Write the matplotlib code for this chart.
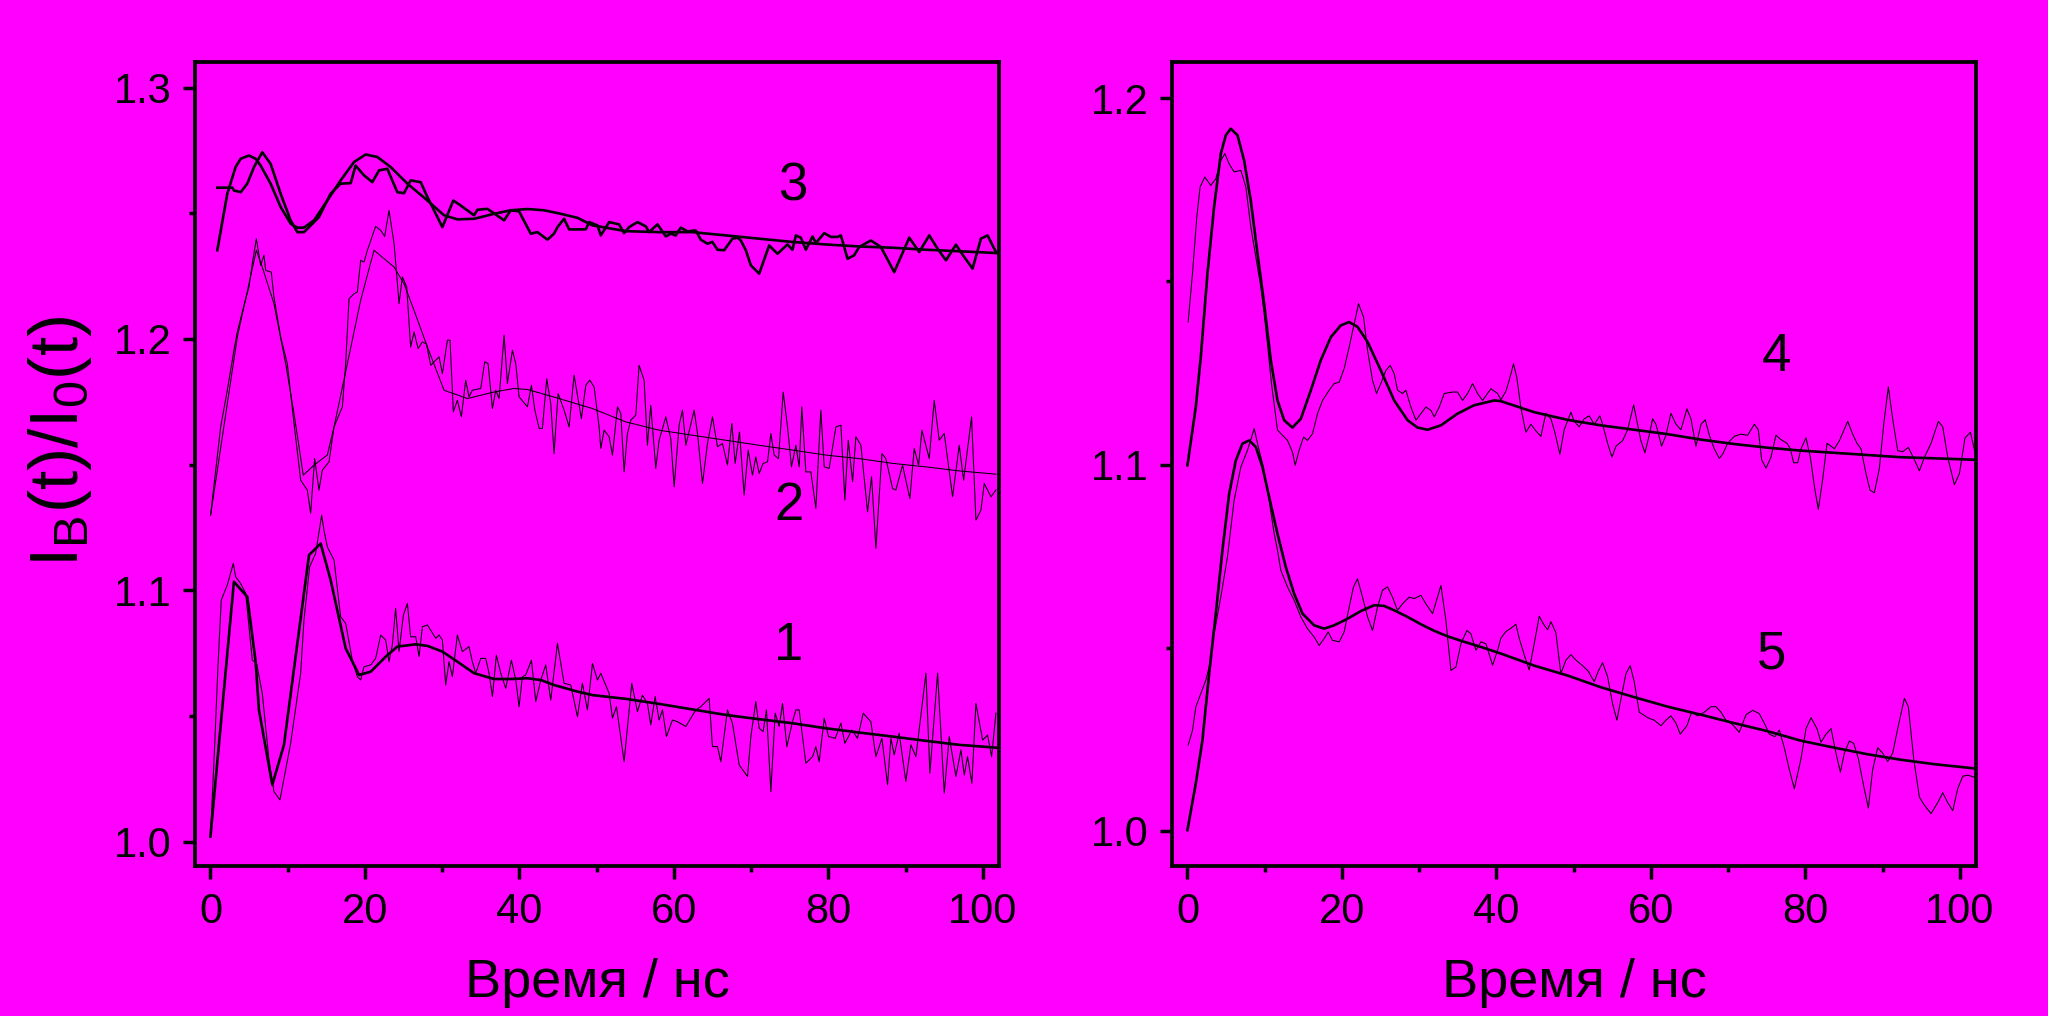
import matplotlib
matplotlib.use('Agg')
import matplotlib.pyplot as plt
from matplotlib.ticker import MultipleLocator

plt.rcParams['font.family'] = ['Liberation Sans', 'DejaVu Sans']
plt.rcParams['mathtext.fontset'] = 'custom'
plt.rcParams['mathtext.rm'] = 'Liberation Sans'
plt.rcParams['mathtext.it'] = 'Liberation Sans'
plt.rcParams['mathtext.bf'] = 'Liberation Sans:bold'

# ---------------- data: left panel ----------------
# curve 3 (noisy, thick)
t3 = [0.89, 2.83, 3.04, 3.91, 4.77, 5.64, 6.71, 7.79, 9.09, 10.38, 11.25, 12.11, 13.41, 14.05, 15.56,
      16.86, 18.16, 18.80, 19.88, 20.96, 21.83, 22.90, 24.20, 25.06, 25.92, 27.22, 28.09, 28.95, 30.03,
      31.45, 32.40, 34.13, 34.56, 35.86, 38.02, 38.88, 39.96, 41.47, 42.34, 43.63, 44.49, 44.93, 45.79,
      46.44, 48.60, 49.03, 50.11,
      50.54, 51.62, 52.91, 53.56, 54.21, 55.29, 56.37, 56.80, 57.88, 58.96, 59.60, 60.25, 60.90, 61.76,
      62.84, 63.49, 64.35, 65.00, 65.65, 66.51, 67.59, 68.24, 68.67, 69.32, 69.97, 71.05, 72.34, 73.42,
      74.72, 75.36, 75.80, 76.44, 77.09, 77.96, 78.39, 79.47, 80.33, 81.19, 81.63, 82.49, 83.35, 84.00,
      85.51, 86.81, 88.53, 90.48, 91.77, 93.07, 94.15, 95.23, 96.52, 97.60, 98.68, 99.76, 100.62, 101.70]
v3 = [1.2602, 1.2602, 1.2591, 1.2584, 1.2618, 1.2684, 1.2743, 1.2697, 1.2578, 1.2472, 1.2425, 1.2425,
      1.2465, 1.2485, 1.2578, 1.2618, 1.2620, 1.2690, 1.2651, 1.2624, 1.2671, 1.2677, 1.2584, 1.2580,
      1.2631, 1.2624, 1.2565, 1.2512, 1.2445, 1.2551, 1.2531, 1.2492, 1.2514, 1.2518, 1.2472, 1.2512,
      1.2508, 1.2419, 1.2425, 1.2395, 1.2419, 1.2445, 1.2478, 1.2436, 1.2436, 1.2465, 1.2452,
      1.2412, 1.2465, 1.2456, 1.2421, 1.2445, 1.2465, 1.2448, 1.2425, 1.2456, 1.2408, 1.2419, 1.2412,
      1.2443, 1.2428, 1.2432, 1.2395, 1.2379, 1.2386, 1.2355, 1.2353, 1.2399, 1.2403, 1.2392, 1.2353,
      1.2293, 1.2260, 1.2372, 1.2339, 1.2376, 1.2355, 1.2412, 1.2403, 1.2355, 1.2408, 1.2382, 1.2421,
      1.2406, 1.2406, 1.2412, 1.2319, 1.2333, 1.2366, 1.2392, 1.2366, 1.2266, 1.2403, 1.2346, 1.2412,
      1.2359, 1.2313, 1.2375, 1.2326, 1.2280, 1.2399, 1.2412, 1.2346]
# fit 3 (thick)
tf3 = [0.89, 2.18, 3.26, 3.91, 4.99, 5.85, 6.50, 7.79, 9.09, 10.38, 11.25, 12.11, 13.41, 15.13, 16.86,
       18.59, 20.10, 21.61, 23.34, 25.50, 28.09, 30.25, 31.97, 34.13, 36.72, 38.88, 41.04, 43.20, 45.36,
       47.52, 49.46, 53.78, 58.09, 62.41, 66.73, 71.05, 75.36, 79.68, 84.00, 88.32, 92.64, 96.95, 101.70]
vf3 = [1.2353, 1.2578, 1.2684, 1.2717, 1.2730, 1.2717, 1.2690, 1.2618, 1.2525, 1.2459, 1.2443, 1.2443,
       1.2472, 1.2551, 1.2631, 1.2704, 1.2734, 1.2724, 1.2684, 1.2618, 1.2551, 1.2492, 1.2476, 1.2478,
       1.2498, 1.2512, 1.2517, 1.2512, 1.2498, 1.2482, 1.2452, 1.2429, 1.2425, 1.2425, 1.2412, 1.2399,
       1.2386, 1.2376, 1.2368, 1.2363, 1.2355, 1.2349, 1.2342]

# curve 2 (noisy, thin)
t2_early = [0.02, 1.32, 2.18, 3.04, 3.48, 4.34, 4.99, 5.42, 5.94, 6.50, 6.93, 7.15, 7.88, 8.22, 9.09,
            9.95, 10.38, 10.82, 11.68, 12.54, 12.97, 13.49, 14.05, 14.49, 15.35, 16.00, 17.08, 17.51,
            17.94, 18.59, 19.02, 19.45, 19.88, 20.32, 21.39, 22.04, 22.56, 23.12, 23.78, 24.42, 24.85,
            25.41, 25.92, 26.36, 26.88, 27.44, 27.96, 28.52, 29.60, 30.03, 30.68, 31.02, 31.45, 31.97,
            32.49, 33.05, 33.48, 33.91, 35.00, 35.51, 35.95, 36.51, 36.94, 37.37, 38.02, 38.45, 39.10,
            39.53, 39.96, 41.04, 41.56, 42.00, 42.56, 42.98, 43.54, 44.06, 44.49, 45.01, 45.79, 46.44,
            47.08, 48.03, 48.60, 49.12, 49.68, 50.32]
v2_early = [1.1299, 1.1650, 1.1796, 1.1955, 1.2028, 1.2134, 1.2207, 1.2300, 1.2399, 1.2293, 1.2333,
            1.2273, 1.2266, 1.2167, 1.2008, 1.1902, 1.1783, 1.1664, 1.1438, 1.1399, 1.1306, 1.1524,
            1.1399, 1.1478, 1.1511, 1.1650, 1.1730, 1.1902, 1.2160, 1.2180, 1.2187, 1.2313, 1.2306,
            1.2353, 1.2448, 1.2432, 1.2408, 1.2512, 1.2379, 1.2141, 1.2247, 1.2207, 1.1968, 1.2028,
            1.1962, 1.1988, 1.1981, 1.1895, 1.1929, 1.1862, 1.1995, 1.1995, 1.1710, 1.1756, 1.1690,
            1.1836, 1.1770, 1.1796, 1.1803, 1.1909, 1.1902, 1.1723, 1.1796, 1.1763, 1.2015, 1.1823,
            1.1955, 1.1902, 1.1770, 1.1730, 1.1816, 1.1717, 1.1644, 1.1644, 1.1842, 1.1743, 1.1544,
            1.1783, 1.1717, 1.1650, 1.1856, 1.1683, 1.1816, 1.1836, 1.1809, 1.1650]
t2_late = [50.54, 50.97, 51.62, 52.05, 52.70, 53.13, 53.56, 53.99, 54.42, 55.07, 55.50, 56.15, 56.58,
           57.01, 57.66, 58.09, 58.96, 59.60, 60.04, 60.68, 61.12, 61.55, 62.63, 63.06, 63.71, 64.35,
           65.00, 65.65, 66.30, 66.94, 67.51, 67.94, 68.50, 69.10, 69.62, 70.18, 70.61, 71.05, 71.56,
           72.13, 72.56, 72.99, 73.55, 74.16, 74.72, 75.23, 75.80, 76.23, 76.57, 77.09, 77.74, 78.39,
           79.03, 79.47, 80.11, 80.98, 81.63, 82.14, 82.58, 83.14, 83.57, 84.22, 85.08, 85.60, 86.16,
           86.94, 87.45, 88.32, 88.75, 89.61, 90.56, 91.12, 91.69, 92.12, 93.07, 93.71, 94.36, 95.01,
           96.09, 96.95, 97.52, 98.55, 99.11, 99.76, 100.19, 101.06, 101.70]
v2_late = [1.1564, 1.1637, 1.1611, 1.1538, 1.1730, 1.1704, 1.1471, 1.1624, 1.1677, 1.1697, 1.1895,
           1.1836, 1.1577, 1.1736, 1.1485, 1.1597, 1.1690, 1.1604, 1.1412, 1.1657, 1.1717, 1.1577,
           1.1717, 1.1624, 1.1425, 1.1584, 1.1690, 1.1571, 1.1584, 1.1498, 1.1664, 1.1505, 1.1630,
           1.1379, 1.1558, 1.1458, 1.1531, 1.1465, 1.1505, 1.1511, 1.1624, 1.1538, 1.1524, 1.1789,
           1.1650, 1.1491, 1.1577, 1.1491, 1.1730, 1.1471, 1.1471, 1.1326, 1.1717, 1.1491, 1.1485,
           1.1650, 1.1657, 1.1359, 1.1597, 1.1432, 1.1611, 1.1577, 1.1312, 1.1452, 1.1167, 1.1544,
           1.1524, 1.1405, 1.1399, 1.1498, 1.1365, 1.1564, 1.1498, 1.1637, 1.1524, 1.1756, 1.1597,
           1.1624, 1.1372, 1.1577, 1.1438, 1.1690, 1.1279, 1.1319, 1.1425, 1.1372, 1.1399]
# fit 2 (thin)
tf2 = [0.02, 3.48, 5.94, 6.71, 8.22, 9.74, 10.82, 12.02, 13.41, 15.13, 16.00, 17.73, 19.45, 21.18,
       23.78, 25.06, 26.36, 28.09, 30.25, 33.27, 36.72, 39.31, 41.04, 45.14, 49.46, 53.78, 58.09, 62.41,
       66.73, 71.05, 75.36, 79.68, 84.00, 88.32, 92.64, 96.95, 101.70]
vf2 = [1.1299, 1.2008, 1.2353, 1.2286, 1.2141, 1.1902, 1.1703, 1.1458, 1.1498, 1.1538, 1.1650, 1.1902,
       1.2154, 1.2353, 1.2286, 1.2220, 1.2114, 1.1968, 1.1796, 1.1763, 1.1789, 1.1803, 1.1799, 1.1763,
       1.1723, 1.1670, 1.1637, 1.1617, 1.1597, 1.1577, 1.1558, 1.1538, 1.1524, 1.1505, 1.1491, 1.1475,
       1.1462]

# curve 1 (noisy, thin)
t1_early = [0.02, 0.54, 0.97, 1.40, 2.18, 2.96, 3.26, 3.91, 4.56, 5.42, 5.98, 6.71, 7.58, 8.22, 9.00,
            10.38, 11.68, 12.11, 12.85, 13.62, 14.40, 14.70, 15.13, 16.00, 16.86, 17.51, 18.37, 19.02,
            19.45, 19.88, 20.75, 21.39, 22.04, 22.69, 23.12, 23.55, 23.98, 24.42, 24.98, 25.50, 25.92,
            26.58, 27.01, 27.44, 28.09, 29.17, 29.60, 30.03, 30.46, 30.89, 31.32, 31.97, 32.62, 33.48,
            33.91, 34.35, 35.00, 35.64, 36.07, 36.51, 37.02, 37.59, 38.23, 38.97, 39.53, 39.96, 40.39,
            40.82, 41.56, 42.12, 42.77, 43.41, 44.06, 44.93, 45.79, 46.65, 47.52, 48.16, 48.81, 49.46,
            50.11]
v1_early = [1.0033, 1.0378, 1.0696, 1.0961, 1.1021, 1.1107, 1.1054, 1.1027, 1.0988, 1.0722, 1.0709,
            1.0590, 1.0325, 1.0199, 1.0166, 1.0391, 1.0670, 1.0882, 1.1094, 1.1147, 1.1299, 1.1239,
            1.1173, 1.1120, 1.0895, 1.0868, 1.0722, 1.0656, 1.0643, 1.0696, 1.0703, 1.0729, 1.0822,
            1.0802, 1.0716, 1.0782, 1.0928, 1.0756, 1.0901, 1.0948, 1.0815, 1.0815, 1.0736, 1.0855,
            1.0862, 1.0809, 1.0822, 1.0802, 1.0623, 1.0716, 1.0656, 1.0822, 1.0756, 1.0776, 1.0716,
            1.0670, 1.0729, 1.0729, 1.0670, 1.0577, 1.0742, 1.0670, 1.0610, 1.0722, 1.0643, 1.0537,
            1.0656, 1.0663, 1.0722, 1.0557, 1.0643, 1.0703, 1.0563, 1.0789, 1.0630, 1.0623, 1.0497,
            1.0630, 1.0524, 1.0709, 1.0643]
t1_late = [50.54, 51.62, 52.05, 52.57, 53.56, 54.55, 55.29, 55.93, 56.58, 57.01, 57.58, 58.09, 58.53,
           59.04, 59.82, 60.47, 61.55, 62.84, 63.49, 64.57, 65.00, 65.65, 66.08, 66.94, 67.59, 68.46,
           69.54, 69.97, 70.61, 71.05, 71.56, 71.99, 72.56, 73.12, 73.64, 74.07, 74.63, 75.36, 75.80,
           76.23, 77.09, 77.96, 78.39, 78.82, 79.47, 80.03, 80.89, 81.63, 82.14, 83.05, 83.78, 84.52,
           85.51, 86.16, 86.94, 87.67, 88.10, 88.53, 89.18, 90.04, 90.69, 91.34, 92.64, 93.15, 94.15,
           95.01, 95.66, 96.52, 97.17, 97.60, 98.03, 98.59, 99.11, 99.98, 100.62, 101.14, 101.70]
v1_late = [1.0670, 1.0590, 1.0491, 1.0537, 1.0318, 1.0630, 1.0517, 1.0583, 1.0550, 1.0464, 1.0577,
           1.0484, 1.0524, 1.0418, 1.0484, 1.0477, 1.0458, 1.0524, 1.0537, 1.0570, 1.0378, 1.0378,
           1.0318, 1.0524, 1.0471, 1.0305, 1.0259, 1.0418, 1.0557, 1.0451, 1.0438, 1.0524, 1.0199,
           1.0511, 1.0458, 1.0550, 1.0378, 1.0477, 1.0524, 1.0524, 1.0312, 1.0338, 1.0378, 1.0318,
           1.0491, 1.0418, 1.0411, 1.0471, 1.0391, 1.0444, 1.0411, 1.0511, 1.0477, 1.0338, 1.0411,
           1.0226, 1.0411, 1.0345, 1.0431, 1.0239, 1.0385, 1.0338, 1.0670, 1.0272, 1.0670, 1.0193,
           1.0418, 1.0259, 1.0365, 1.0265, 1.0338, 1.0232, 1.0550, 1.0404, 1.0424, 1.0338, 1.0511]
# fit 1 (thick)
tf1 = [0.0, 3.04, 4.77, 5.85, 6.28, 8.01, 9.52, 12.76, 14.27, 15.56, 17.51, 19.24, 20.75, 22.69, 24.20,
       26.58, 28.09, 30.03, 31.97, 34.13, 36.72, 38.88, 41.04, 42.77, 44.49, 47.52, 49.46, 53.78, 58.09,
       62.41, 66.73, 71.05, 75.36, 79.68, 84.00, 88.32, 92.64, 96.95, 101.70]
vf1 = [1.0020, 1.1034, 1.0974, 1.0716, 1.0524, 1.0226, 1.0385, 1.1140, 1.1186, 1.1041, 1.0769, 1.0663,
       1.0676, 1.0736, 1.0776, 1.0785, 1.0779, 1.0756, 1.0716, 1.0670, 1.0647, 1.0647, 1.0650, 1.0643,
       1.0623, 1.0597, 1.0583, 1.0568, 1.0548, 1.0526, 1.0504, 1.0487, 1.0471, 1.0451, 1.0434, 1.0418,
       1.0401, 1.0385, 1.0374]

# ---------------- data: right panel ----------------
# curve 4 (noisy, thin)
t4_early = [0.09, 0.65, 1.21, 1.64, 2.25, 3.02, 3.67, 4.32, 4.84, 5.40, 6.04, 6.91, 7.56, 8.20, 8.85,
            9.50, 9.93, 10.36, 10.88, 11.66, 12.31, 12.95, 13.60, 13.95, 14.46, 15.03, 15.54, 16.19,
            16.84, 17.49, 18.35, 19.00, 19.65, 20.29, 20.94, 21.59, 22.15, 22.80, 23.32, 23.96, 24.48,
            25.04, 25.69, 26.25, 26.77, 27.20, 27.85, 28.28, 28.93, 29.58, 30.22, 30.87, 31.52, 31.95,
            32.60, 33.25, 34.33, 34.97, 35.62, 36.27, 36.92, 37.56, 38.21, 39.29, 40.16]
v4_early = [1.1389, 1.1521, 1.1676, 1.1758, 1.1785, 1.1762, 1.1780, 1.1830, 1.1849, 1.1821, 1.1799,
            1.1803, 1.1758, 1.1649, 1.1567, 1.1485, 1.1412, 1.1330, 1.1221, 1.1094, 1.1080, 1.1066,
            1.1034, 1.0998, 1.1039, 1.1075, 1.1066, 1.1084, 1.1139, 1.1175, 1.1203, 1.1221, 1.1225,
            1.1262, 1.1321, 1.1385, 1.1439, 1.1403, 1.1312, 1.1230, 1.1194, 1.1221, 1.1257, 1.1271,
            1.1248, 1.1203, 1.1194, 1.1203, 1.1157, 1.1121, 1.1139, 1.1157, 1.1148, 1.1130, 1.1157,
            1.1194, 1.1198, 1.1198, 1.1175, 1.1194, 1.1221, 1.1194, 1.1175, 1.1207, 1.1194]
t4_late = [40.58, 41.23, 41.66, 42.22, 42.65, 43.17, 43.82, 44.47, 45.11, 45.76, 46.41, 47.06, 47.57,
           48.22, 48.78, 49.65, 50.08, 50.73, 51.37, 52.02, 52.67, 53.40, 53.75, 54.40, 54.96, 55.48,
           56.34, 56.99, 57.77, 58.28, 58.71, 59.23, 59.79, 60.23, 60.66, 61.39, 61.95, 62.60, 63.25,
           63.90, 64.67, 65.19, 65.84, 66.49, 67.05, 67.57, 68.21, 68.86, 69.29, 69.94, 70.80, 71.67,
           72.53, 73.40, 73.91, 74.35, 74.91, 75.55, 76.20, 76.85, 77.63, 78.06, 78.49, 79.01, 79.44,
           80.09, 80.65, 81.25, 81.69, 82.25, 82.81, 83.33, 83.76, 84.41, 85.49, 86.13, 86.69, 87.21,
           87.86, 88.38, 88.94, 89.59, 90.15, 90.75, 91.31, 91.96, 92.61, 93.34, 94.12, 94.77, 95.42,
           96.28, 97.23, 97.79, 98.44, 99.30, 99.95, 100.68, 101.38, 102.11]
v4_late = [1.1177, 1.1200, 1.1230, 1.1275, 1.1237, 1.1155, 1.1088, 1.1110, 1.1092, 1.1077, 1.1140,
           1.1125, 1.1088, 1.1028, 1.1095, 1.1143, 1.1118, 1.1103, 1.1125, 1.1133, 1.1110, 1.1133,
           1.1110, 1.1058, 1.1020, 1.1050, 1.1065, 1.1095, 1.1163, 1.1110, 1.1065, 1.1032, 1.1080,
           1.1125, 1.1110, 1.1050, 1.1080, 1.1140, 1.1110, 1.1095, 1.1152, 1.1125, 1.1050, 1.1110,
           1.1122, 1.1080, 1.1043, 1.1017, 1.1028, 1.1058, 1.1077, 1.1083, 1.1080, 1.1110, 1.1095,
           1.1013, 1.0990, 1.1020, 1.1080, 1.1068, 1.1058, 1.1043, 1.1005, 1.1005, 1.1043, 1.1073,
           1.1020, 1.0930, 1.0878, 1.0960, 1.1058, 1.1050, 1.1043, 1.1065, 1.1118, 1.1083, 1.1058,
           1.1043, 1.0975, 1.0930, 1.0923, 1.0990, 1.1110, 1.1212, 1.1125, 1.1038, 1.1035, 1.1047,
           1.1013, 1.0983, 1.1020, 1.1058, 1.1118, 1.1103, 1.1020, 1.0945, 1.0975, 1.1073, 1.1088,
           1.1020]
# fit 4 (thick)
tf4 = [0.0, 1.08, 1.73, 2.59, 3.45, 4.32, 4.97, 5.61, 6.48, 7.34, 8.20, 9.07, 9.93, 10.79, 11.66, 12.52,
       13.60, 14.68, 15.98, 17.27, 18.57, 19.86, 20.94, 22.02, 23.32, 25.04, 26.77, 28.50, 29.79, 31.09,
       32.82, 34.97, 37.13, 39.72, 40.58, 44.90, 49.22, 53.53, 57.85, 62.17, 66.49, 70.80, 75.12, 79.44,
       83.76, 88.08, 92.39, 96.71, 102.11]
vf4 = [1.0998, 1.1157, 1.1294, 1.1521, 1.1703, 1.1849, 1.1899, 1.1917, 1.1899, 1.1830, 1.1721, 1.1576,
       1.1439, 1.1285, 1.1175, 1.1121, 1.1101, 1.1125, 1.1203, 1.1285, 1.1348, 1.1380, 1.1389, 1.1376,
       1.1335, 1.1257, 1.1175, 1.1121, 1.1101, 1.1095, 1.1107, 1.1139, 1.1162, 1.1175, 1.1173, 1.1143,
       1.1122, 1.1107, 1.1095, 1.1083, 1.1068, 1.1056, 1.1046, 1.1038, 1.1032, 1.1026, 1.1020, 1.1017,
       1.1013]

# curve 5 (noisy, thin)
t5_early = [0.09, 0.65, 1.08, 1.73, 2.37, 2.81, 3.45, 4.32, 5.18, 6.04, 6.91, 7.77, 8.64, 9.28, 9.84,
            10.58, 11.23, 11.66, 12.09, 12.95, 13.82, 14.68, 15.54, 16.41, 17.06, 17.70, 18.22, 18.78,
            19.65, 20.29, 20.94, 21.50, 22.02, 22.67, 23.32, 23.96, 24.61, 25.26, 25.91, 26.55, 27.20,
            27.85, 28.71, 29.36, 30.22, 30.87, 31.74, 32.82, 33.46, 34.11, 34.76, 35.41, 36.18, 36.70,
            37.35, 38.00, 38.64, 39.51, 40.16]
v5_early = [1.0234, 1.0274, 1.0338, 1.0375, 1.0411, 1.0447, 1.0538, 1.0638, 1.0748, 1.0902, 1.0993,
            1.1039, 1.1098, 1.1039, 1.0993, 1.0902, 1.0811, 1.0766, 1.0711, 1.0666, 1.0629, 1.0584,
            1.0552, 1.0529, 1.0506, 1.0525, 1.0543, 1.0520, 1.0516, 1.0543, 1.0611, 1.0666, 1.0688,
            1.0638, 1.0584, 1.0547, 1.0611, 1.0657, 1.0666, 1.0638, 1.0602, 1.0620, 1.0638, 1.0634,
            1.0643, 1.0620, 1.0593, 1.0670, 1.0575, 1.0438, 1.0447, 1.0511, 1.0547, 1.0538, 1.0493,
            1.0516, 1.0511, 1.0452, 1.0493]
t5_late = [40.58, 41.23, 41.88, 42.52, 42.95, 43.60, 44.25, 44.90, 45.55, 46.11, 46.63, 47.06, 47.70,
           48.35, 49.00, 49.65, 50.30, 51.16, 51.89, 52.67, 53.19, 53.75, 54.40, 55.04, 55.61, 56.21,
           56.77, 57.33, 57.85, 58.50, 59.58, 60.44, 61.31, 61.95, 62.60, 63.25, 63.81, 64.67, 65.28,
           66.05, 66.92, 67.78, 68.43, 69.08, 69.73, 70.59, 71.45, 72.32, 73.18, 74.04, 74.69, 75.34,
           76.07, 76.63, 77.28, 77.93, 78.58, 79.44, 80.09, 80.74, 81.51, 82.03, 82.68, 83.33, 83.97,
           84.54, 85.05, 85.70, 86.26, 86.87, 87.56, 88.16, 88.72, 89.37, 90.02, 90.67, 91.31, 91.96,
           92.83, 93.34, 94.03, 94.77, 95.42, 96.28, 97.14, 97.79, 98.44, 99.09, 99.73, 100.38, 101.03,
           102.11]
v5_late = [1.0526, 1.0544, 1.0553, 1.0564, 1.0526, 1.0481, 1.0439, 1.0511, 1.0586, 1.0564, 1.0549,
           1.0571, 1.0541, 1.0429, 1.0466, 1.0481, 1.0466, 1.0451, 1.0436, 1.0407, 1.0436, 1.0459,
           1.0421, 1.0347, 1.0302, 1.0369, 1.0429, 1.0451, 1.0407, 1.0324, 1.0309, 1.0302, 1.0287,
           1.0302, 1.0314, 1.0294, 1.0264, 1.0287, 1.0324, 1.0314, 1.0324, 1.0339, 1.0339, 1.0324,
           1.0302, 1.0290, 1.0269, 1.0317, 1.0329, 1.0320, 1.0294, 1.0264, 1.0257, 1.0275, 1.0227,
           1.0167, 1.0115, 1.0197, 1.0279, 1.0309, 1.0279, 1.0242, 1.0264, 1.0279, 1.0212, 1.0160,
           1.0212, 1.0245, 1.0239, 1.0197, 1.0122, 1.0062, 1.0167, 1.0227, 1.0212, 1.0189, 1.0212,
           1.0279, 1.0362, 1.0339, 1.0197, 1.0092, 1.0070, 1.0047, 1.0077, 1.0104, 1.0077, 1.0055,
           1.0115, 1.0149, 1.0152, 1.0145]
# fit 5 (thick)
tf5 = [0.0, 1.08, 1.94, 2.81, 3.67, 4.53, 5.40, 6.26, 7.12, 7.99, 8.85, 9.72, 10.58, 11.66, 12.74, 13.82,
       14.90, 16.41, 17.70, 19.00, 20.73, 22.45, 24.18, 25.47, 26.77, 28.50, 30.22, 31.95, 33.68, 35.84,
       38.00, 40.58, 44.90, 49.22, 53.53, 57.85, 62.17, 66.49, 70.80, 75.12, 79.44, 83.76, 88.08, 92.39,
       96.71, 102.11]
vf5 = [1.0002, 1.0129, 1.0247, 1.0429, 1.0593, 1.0766, 1.0920, 1.1011, 1.1057, 1.1066, 1.1048, 1.0993,
       1.0911, 1.0811, 1.0720, 1.0647, 1.0593, 1.0561, 1.0552, 1.0561, 1.0579, 1.0600, 1.0616, 1.0614,
       1.0602, 1.0584, 1.0564, 1.0546, 1.0531, 1.0516, 1.0502, 1.0484, 1.0451, 1.0424, 1.0392, 1.0365,
       1.0339, 1.0317, 1.0294, 1.0272, 1.0246, 1.0227, 1.0209, 1.0194, 1.0182, 1.0170]

# curve labels
labels_left = ['3', '2', '1']
labels_left_t = [75.4, 74.9, 74.9]
labels_left_v = [1.2551, 1.1280, 1.0722]
labels_right = ['4', '5']
labels_right_t = [76.2, 75.6]
labels_right_v = [1.1255, 1.0444]

xticks = [0, 20, 40, 60, 80, 100]
yticks_left = [1.0, 1.1, 1.2, 1.3]
yticks_right = [1.0, 1.1, 1.2]
xlabel_text = 'Время / нс'
ylabel_text = r'$\mathregular{I_B(t)/I_0(t)}$'

# ---------------- drawing ----------------
BG = '#FF00FF'
W, H = 2048, 1016
fig = plt.figure(figsize=(W / 100, H / 100), dpi=100, facecolor=BG)
axL = fig.add_axes([195 / W, 1 - 866 / H, 804 / W, 804 / H])
axR = fig.add_axes([1172 / W, 1 - 866 / H, 804 / W, 804 / H])

THICK = 1.9
THIN = 0.75

axL.plot(t1_early + t1_late, v1_early + v1_late, color='black', lw=THIN)
axL.plot(tf1, vf1, color='black', lw=THICK)
axL.plot(t2_early + t2_late, v2_early + v2_late, color='black', lw=THIN)
axL.plot(tf2, vf2, color='black', lw=THIN)
axL.plot(t3, v3, color='black', lw=THICK)
axL.plot(tf3, vf3, color='black', lw=THICK)

axR.plot(t4_early + t4_late, v4_early + v4_late, color='black', lw=THIN)
axR.plot(tf4, vf4, color='black', lw=THICK)
axR.plot(t5_early + t5_late, v5_early + v5_late, color='black', lw=THIN)
axR.plot(tf5, vf5, color='black', lw=THICK)

for s, x, y in zip(labels_left, labels_left_t, labels_left_v):
    axL.text(x, y, s, fontsize=38, ha='center', va='baseline', color='black')
for s, x, y in zip(labels_right, labels_right_t, labels_right_v):
    axR.text(x, y, s, fontsize=38, ha='center', va='baseline', color='black')

for ax, yt, ylim in [(axL, yticks_left, (0.9903, 1.3102)), (axR, yticks_right, (0.9904, 1.2099))]:
    ax.set_facecolor(BG)
    ax.set_xlim(-2.0, 102.1)
    ax.set_ylim(*ylim)
    ax.set_xticks(xticks)
    ax.set_yticks(yt)
    ax.xaxis.set_minor_locator(MultipleLocator(10))
    ax.yaxis.set_minor_locator(MultipleLocator(0.05))
    ax.set_yticklabels(['%.1f' % v for v in yt])
    for sp in ax.spines.values():
        sp.set_linewidth(2.7)
        sp.set_color('black')
    ax.tick_params(which='both', direction='out', top=False, right=False, width=2.5, color='black')
    ax.tick_params(which='major', length=9, labelsize=30)
    ax.tick_params(which='minor', length=4.3)
    ax.tick_params(axis='y', which='major', pad=8)
    ax.tick_params(axis='x', which='major', pad=10)

fig.text((195 + 999) / 2 / W, 1 - 997 / H, xlabel_text, fontsize=39, ha='center', va='baseline')
fig.text((1172 + 1976) / 2 / W, 1 - 997 / H, xlabel_text, fontsize=39, ha='center', va='baseline')
fig.text(60 / W, 1 - 441 / H, ylabel_text, fontsize=50, rotation=90, ha='center', va='center')

fig.savefig('out.png', dpi=100, facecolor=BG)
